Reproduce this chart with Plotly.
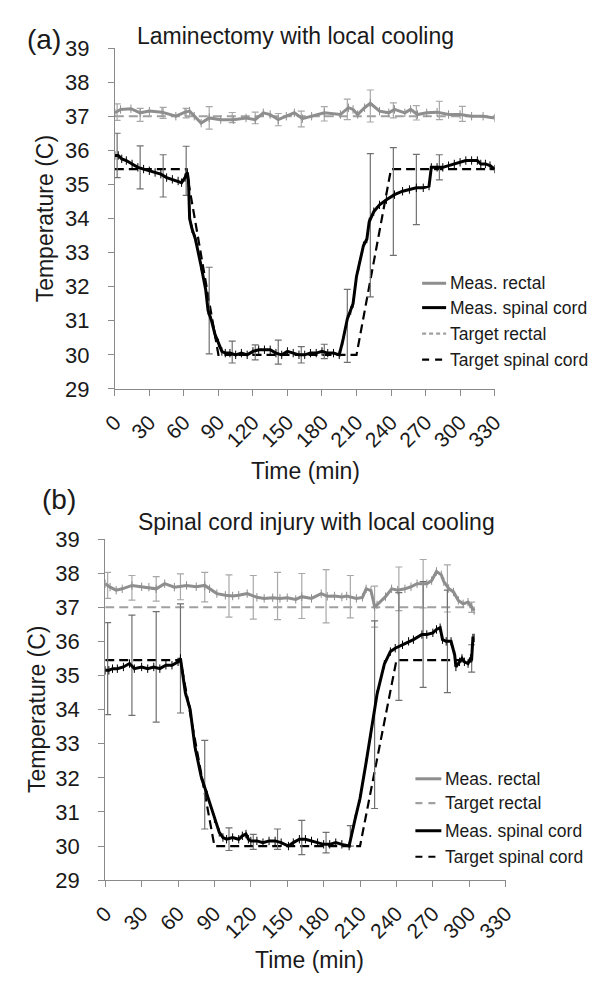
import plotly.graph_objects as go

W, H = 604, 988
FONT = "Liberation Sans, Arial, sans-serif"

# ---------------- Panel (a): Laminectomy with local cooling ----------------
a_rectal_t = [0, 5, 14, 22, 30, 41, 53, 61, 65, 69, 75, 82, 92, 103, 114, 122, 129, 135, 142, 149,
              156, 163, 171, 182, 196, 203, 207, 211, 217, 222, 230, 238, 243, 252, 257, 263, 271, 280,
              290, 300, 310, 320, 330]
a_rectal_v = [37.10, 37.20, 37.22, 37.10, 37.15, 37.12, 37.00, 37.12, 37.15, 37.00, 36.80, 36.95, 36.90,
              36.90, 36.95, 36.90, 37.10, 37.05, 36.90, 37.00, 37.10, 36.93, 37.00, 37.10, 37.05, 37.25,
              37.20, 37.05, 37.25, 37.38, 37.15, 37.10, 37.20, 37.10, 37.20, 37.05, 37.10, 37.12,
              37.05, 37.05, 37.00, 37.00, 36.95]

a_spinal_t = [0, 3, 6, 10, 15, 20, 25, 30, 35, 40, 45, 50, 55, 58, 61, 63, 64, 65, 67, 70, 75, 79, 81,
              84, 87, 90, 93, 96, 100, 105, 110, 115, 120, 125, 130, 135, 140, 145, 150, 155, 160, 165,
              170, 175, 180, 185, 190, 195, 198, 202, 205, 207, 210, 212, 216, 219, 221, 225, 230, 236,
              243, 250, 256, 262, 268, 273, 275, 280, 285, 290, 295, 300, 305, 310, 315, 318, 322, 326, 330]
a_spinal_v = [35.85, 35.85, 35.75, 35.70, 35.60, 35.50, 35.45, 35.40, 35.35, 35.30, 35.20, 35.15, 35.10,
              35.05, 35.20, 35.35, 35.10, 34.00, 33.70, 33.40, 32.60, 31.90, 31.30, 31.00, 30.60, 30.35,
              30.10, 30.05, 30.05, 30.00, 30.05, 30.00, 30.10, 30.15, 30.15, 30.15, 30.05, 30.00, 30.10,
              30.05, 30.00, 30.00, 30.05, 30.05, 30.10, 30.05, 30.05, 30.00, 30.40, 31.05, 31.30, 31.50,
              32.30, 32.60, 33.20, 33.40, 33.90, 34.20, 34.40, 34.55, 34.70, 34.80, 34.85, 34.90, 34.90,
              34.95, 35.50, 35.50, 35.50, 35.55, 35.60, 35.65, 35.70, 35.70, 35.70, 35.60, 35.60, 35.55,
              35.45]

a_err_t = [2, 22, 42, 62, 82, 102, 122, 142, 162, 182, 202, 222, 242, 262, 282, 302]
a_rectal_mean = [37.12, 37.04, 37.10, 37.09, 36.95, 36.96, 36.95, 36.90, 36.92, 37.07, 37.20, 37.30,
                 37.17, 37.10, 37.17, 37.07]
a_rectal_err = [0.24, 0.19, 0.16, 0.14, 0.33, 0.15, 0.17, 0.18, 0.23, 0.21, 0.30, 0.47, 0.22, 0.21,
                0.27, 0.22]
a_sp_err_t = [2, 22, 42, 62, 82, 102, 122, 142, 162, 182, 202, 222, 242, 262, 282]
a_spinal_mean = [35.85, 35.50, 35.25, 35.40, 31.30, 30.08, 30.07, 30.08, 30.00, 30.10, 30.85, 33.80,
                 34.50, 34.85, 35.50]
a_spinal_err = [0.65, 0.63, 0.62, 0.72, 1.27, 0.32, 0.22, 0.35, 0.24, 0.21, 1.07, 2.10, 1.58, 1.03, 0.37]

a_target_rectal_t = [0, 330]
a_target_rectal_v = [37.0, 37.0]
a_target_spinal_t = [0, 62, 90, 210, 240, 330]
a_target_spinal_v = [35.45, 35.45, 30.0, 30.0, 35.45, 35.45]

# ---------------- Panel (b): Spinal cord injury with local cooling ----------------
b_rectal_t = [0, 4, 9, 14, 22, 30, 36, 42, 49, 57, 67, 75, 82, 86, 92, 99, 105, 110, 117, 125, 131,
              138, 144, 150, 157, 162, 170, 178, 183, 189, 195, 199, 207, 212, 215, 219, 222, 224, 231,
              236, 241, 247, 252, 257, 265, 269, 273, 277, 279, 283, 287, 291, 295, 299, 302, 304]
b_rectal_v = [37.69, 37.59, 37.50, 37.54, 37.64, 37.60, 37.59, 37.54, 37.69, 37.59, 37.64, 37.60, 37.64,
              37.54, 37.40, 37.35, 37.33, 37.35, 37.40, 37.29, 37.26, 37.28, 37.26, 37.28, 37.23, 37.31,
              37.26, 37.40, 37.32, 37.33, 37.30, 37.33, 37.26, 37.29, 37.54, 37.49, 37.02, 37.07, 37.31,
              37.54, 37.50, 37.54, 37.60, 37.69, 37.69, 37.78, 38.05, 37.95, 37.75, 37.55, 37.45, 37.20,
              37.10, 37.15, 37.00, 36.90]

b_spinal_t = [0, 3, 6, 10, 15, 20, 24, 30, 35, 40, 45, 50, 55, 60, 62, 64, 66, 70, 74, 79, 84, 90, 94,
              97, 100, 105, 110, 113, 116, 118, 120, 125, 130, 135, 140, 145, 151, 155, 160, 165, 170,
              175, 180, 185, 190, 195, 201, 206, 210, 215, 219, 224, 230, 235, 239, 245, 250, 254, 261,
              265, 270, 273, 276, 278, 281, 285, 288, 289, 292, 294, 296, 299, 301, 302, 303, 304]
b_spinal_v = [35.15, 35.15, 35.20, 35.20, 35.25, 35.35, 35.20, 35.25, 35.20, 35.25, 35.20, 35.30, 35.30,
              35.40, 35.50, 35.00, 34.50, 34.00, 32.90, 32.05, 31.50, 30.80, 30.40, 30.25, 30.20, 30.25,
              30.20, 30.30, 30.35, 30.20, 30.15, 30.15, 30.10, 30.15, 30.15, 30.10, 30.00, 30.10, 30.20,
              30.20, 30.15, 30.10, 30.05, 30.05, 30.10, 30.05, 30.00, 30.80, 31.40, 32.45, 33.30, 34.45,
              35.33, 35.70, 35.80, 35.90, 36.00, 36.05, 36.20, 36.20, 36.25, 36.35, 36.40, 36.05, 36.00,
              36.00, 35.60, 35.25, 35.40, 35.50, 35.40, 35.35, 35.50, 35.50, 36.10, 36.10]

b_err_t = [2, 22, 42, 62, 82, 102, 122, 142, 162, 182, 202, 222, 242, 262, 282, 302]
b_rectal_mean = [37.64, 37.57, 37.54, 37.60, 37.59, 37.33, 37.29, 37.33, 37.33, 37.32, 37.31, 37.02,
                 37.54, 37.69, 37.55, 37.00]
b_rectal_err = [0.38, 0.36, 0.36, 0.38, 0.43, 0.62, 0.64, 0.69, 0.66, 0.78, 0.62, 0.60, 0.64, 0.71,
                0.69, 0.15]
b_spinal_mean = [35.20, 35.30, 35.25, 35.50, 31.80, 30.20, 30.12, 30.20, 30.25, 30.10, 30.30, 33.85,
                 35.85, 36.20, 36.00, 35.50]
b_spinal_err = [1.35, 1.47, 1.62, 1.60, 1.30, 0.33, 0.22, 0.30, 0.50, 0.30, 0.30, 2.75, 1.58, 1.55,
                1.50, 0.40]

b_target_rectal_t = [0, 303]
b_target_rectal_v = [37.0, 37.0]
b_target_spinal_t = [0, 62, 90, 210, 240, 303]
b_target_spinal_v = [35.45, 35.45, 30.0, 30.0, 35.45, 35.45]

x_ticks = list(range(0, 331, 30))
y_ticks = list(range(29, 40))

GRAY = "#8e8e8e"
GRAY_T = "#a0a0a0"
ERR_R = "#a8a8a8"
ERR_S = "#707070"
BLACK = "#000000"


def px_x(v):
    return v / W


def px_y(v):
    return 1 - v / H


fig = go.Figure()


def add_panel(xa, ya, rt, rv, st, sv, et, rm, re, set_, sm, se, trt, trv, tst, tsv):
    fig.add_trace(go.Scatter(x=trt, y=trv, mode="lines", xaxis=xa, yaxis=ya,
                             line=dict(color=GRAY_T, width=2.2, dash="9px,5px"), showlegend=False))
    fig.add_trace(go.Scatter(x=tst, y=tsv, mode="lines", xaxis=xa, yaxis=ya,
                             line=dict(color=BLACK, width=2.2, dash="9px,5px"), showlegend=False))
    fig.add_trace(go.Scatter(x=et, y=rm, mode="markers", xaxis=xa, yaxis=ya,
                             marker=dict(size=1, color="rgba(0,0,0,0)"),
                             error_y=dict(type="data", array=re, visible=True, color=ERR_R,
                                          thickness=1.2, width=3.5), showlegend=False))
    fig.add_trace(go.Scatter(x=set_, y=sm, mode="markers", xaxis=xa, yaxis=ya,
                             marker=dict(size=1, color="rgba(0,0,0,0)"),
                             error_y=dict(type="data", array=se, visible=True, color=ERR_S,
                                          thickness=1.2, width=3.5), showlegend=False))
    fig.add_trace(go.Scatter(x=rt, y=rv, mode="lines+markers", xaxis=xa, yaxis=ya,
                             line=dict(color=GRAY, width=3),
                             marker=dict(symbol="line-ns", size=6, line=dict(color=GRAY, width=1)),
                             showlegend=False))
    fig.add_trace(go.Scatter(x=st, y=sv, mode="lines+markers", xaxis=xa, yaxis=ya,
                             line=dict(color=BLACK, width=3),
                             marker=dict(symbol="line-ns", size=6, line=dict(color=BLACK, width=1)),
                             showlegend=False))


add_panel("x", "y", a_rectal_t, a_rectal_v, a_spinal_t, a_spinal_v, a_err_t, a_rectal_mean,
          a_rectal_err, a_sp_err_t, a_spinal_mean, a_spinal_err, a_target_rectal_t,
          a_target_rectal_v, a_target_spinal_t, a_target_spinal_v)
add_panel("x2", "y2", b_rectal_t, b_rectal_v, b_spinal_t, b_spinal_v, b_err_t, b_rectal_mean,
          b_rectal_err, b_err_t, b_spinal_mean, b_spinal_err, b_target_rectal_t,
          b_target_rectal_v, b_target_spinal_t, b_target_spinal_v)

axis_common = dict(showline=True, linecolor="#8a8a8a", linewidth=1, ticks="outside", ticklen=6,
                   tickcolor="#8a8a8a", tickwidth=1, showgrid=False, zeroline=False,
                   fixedrange=True)

xa_common = dict(axis_common, range=[0, 330], tickvals=x_ticks, ticktext=[str(t) for t in x_ticks],
                 tickangle=-45, ticklabelstandoff=6,
                 tickfont=dict(family=FONT, size=21, color="#1a1a1a"))
ya_common = dict(axis_common, range=[29, 39], tickvals=y_ticks, ticktext=[str(t) for t in y_ticks],
                 ticklabelstandoff=14, tickfont=dict(family=FONT, size=22, color="#1a1a1a"))

fig.update_layout(
    width=W, height=H, margin=dict(l=0, r=0, t=0, b=0),
    paper_bgcolor="white", plot_bgcolor="white",
    font=dict(family=FONT, color="#1a1a1a"),
    showlegend=False,
    xaxis=dict(xa_common, domain=[px_x(105), px_x(500.5)], anchor="y"),
    yaxis=dict(ya_common, domain=[px_y(386.7), px_y(37)], anchor="x"),
    xaxis2=dict(xa_common, domain=[px_x(95), px_x(512)], anchor="y2"),
    yaxis2=dict(ya_common, domain=[px_y(890.7), px_y(540.7)], anchor="x2"),
)

annotations = []
shapes = []


def text(x, y, s, size, angle=0, xanchor="center"):
    annotations.append(dict(x=px_x(x), y=px_y(y), xref="paper", yref="paper", text=s,
                            showarrow=False, textangle=angle, xanchor=xanchor, yanchor="middle",
                            font=dict(family=FONT, size=size, color="#1a1a1a")))


text(31.5, 28, "(a)", 28)
text(293.5, 25, "Laminectomy with local cooling", 23)
text(32, 212, "Temperature (C)", 23, angle=-90)
text(304, 471, "Time (min)", 23)

text(47, 500, "(b)", 28)
text(315, 523, "Spinal cord injury with local cooling", 23)
text(24, 716, "Temperature (C)", 23, angle=-90)
text(308, 973, "Time (min)", 23)

legend_a = [("Meas. rectal", GRAY, "solid"), ("Meas. spinal cord", BLACK, "solid"),
            ("Target rectal", GRAY_T, "4px,3px"), ("Target spinal cord", BLACK, "7px,6px")]
legend_b = [("Meas. rectal", GRAY, "solid"), ("Target rectal", GRAY_T, "7px,6px"),
            ("Meas. spinal cord", BLACK, "solid"), ("Target spinal cord", BLACK, "7px,6px")]


def legend(items, x0, x1, ys):
    for (name, color, dash), yy in zip(items, ys):
        shapes.append(dict(type="line", xref="paper", yref="paper", x0=px_x(x0), x1=px_x(x1),
                           y0=px_y(yy), y1=px_y(yy),
                           line=dict(color=color, width=3 if dash == "solid" else 2.2, dash=dash)))
        text(x1 + 1.5, yy, name, 17.5, xanchor="left")


legend(legend_a, 425, 450, [278.3, 303.3, 330, 356.7])
legend(legend_b, 418, 445, [786.7, 811.7, 840, 866.7])

fig.update_layout(annotations=annotations, shapes=shapes)
fig.write_html("out.html", config={"displayModeBar": False, "staticPlot": True},
               post_script="document.body.style.margin='0px';document.body.style.overflow='hidden';")
